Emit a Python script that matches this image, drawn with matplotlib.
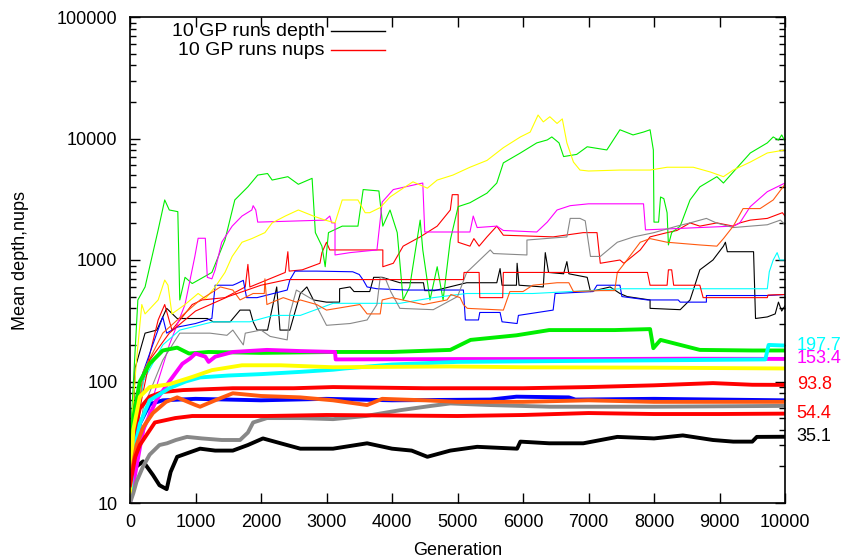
import matplotlib
matplotlib.use("Agg")
import matplotlib.pyplot as plt
from matplotlib.lines import Line2D
import numpy as np

plt.rcParams['font.family'] = ['Liberation Sans', 'DejaVu Sans']

# colours of the ten runs (gnuplot style)
run_colors = ['#000000', '#ff0000', '#00ee00', '#0000ff', '#ff00ff',
              '#00ffff', '#ffff00', '#888888', '#ff5a10', '#ff0000']

# --- depth (thick) series: (generation, mean depth) ---
black_depth = [(0,15),(100,20),(200,22),(350,17),(450,14),(560,13),(620,18),(720,24),(1070,28),
               (1300,27),(1570,27),(1800,30),(2030,34),(2300,31),(2600,28),(3100,28),(3620,31),
               (4000,28),(4300,27),(4540,24),(4890,27),(5300,29),(5910,28),(5960,32),(6400,31),
               (6920,31),(7440,35),(8000,34),(8440,36),(8900,33),(9210,32),(9500,32),(9570,35),(10000,35.1)]
red_depth = [(0,15),(50,35),(150,60),(300,75),(500,82),(810,85),(1570,88),(2500,88),(3100,90),
             (4500,88),(6000,88),(7000,90),(8000,93),(8900,97),(9500,94),(10000,93.8)]
green_depth = [(0,20),(50,50),(150,100),(300,140),(500,180),(720,190),(900,170),(1200,175),(2000,172),
               (3130,175),(4000,175),(4890,182),(5200,220),(5900,240),(6400,265),(7400,265),(7940,270),
               (7990,188),(8100,220),(8700,182),(9500,180),(10000,180)]
blue_depth = [(0,12),(50,25),(150,45),(300,65),(500,70),(1000,72),(2000,70),(3000,72),(4000,70),
              (5500,71),(5900,75),(6700,74),(6800,71),(8000,72),(10000,70)]
magenta_depth = [(0,10),(100,20),(200,40),(400,70),(600,100),(800,140),(920,155),(1000,170),(1150,160),
                 (1200,145),(1300,160),(1570,175),(2090,182),(2600,178),(3130,175),(3140,152),(5000,153),
                 (7000,153),(8500,154),(10000,153.4)]
cyan_depth = [(0,10),(50,25),(150,45),(300,70),(600,88),(850,100),(1070,108),(1500,112),(2000,115),
              (2600,120),(3100,125),(3280,128),(4000,138),(5000,145),(7000,148),(8500,150),(9700,152),
              (9750,200),(10000,197.7)]
yellow_depth = [(0,12),(50,40),(150,75),(300,90),(600,95),(950,109),(1250,124),(1710,136),(2300,136),
                (3100,131),(4890,133),(6000,131),(8000,130),(10000,128)]
gray_depth = [(0,10),(50,12),(100,15),(200,20),(300,25),(450,30),(565,31),(700,33),(870,35),(1100,34),
              (1400,33),(1680,33),(1800,38),(1880,46),(2090,50),(2600,50),(3100,49),(3600,52),(4120,58),
              (4600,63),(4890,66),(5500,64),(6410,62),(8000,62),(10000,63)]
orange_depth = [(0,15),(100,30),(200,42),(350,55),(550,68),(720,74),(1000,64),(1070,62),(1300,70),
                (1570,80),(2000,76),(2600,74),(3100,70),(3620,64),(3850,72),(4500,70),(5000,68),
                (6000,68),(7000,70),(8000,68),(9000,68),(10000,68)]
red2_depth = [(0,14),(80,24),(150,30),(380,46),(690,50),(950,52),(2090,52),(3000,53),(5000,52),
              (6000,53),(7000,55),(8000,54),(9000,54),(10000,54.4)]

# --- nups (thin) series: (generation, mean nups) ---
black_nups = [(0,12),(80,130),(230,250),(410,265),(560,400),(720,330),(1180,330),(1270,310),(1530,310),
              (1680,387),(1830,387),(1880,310),(1940,265),(2100,265),(2240,600),(2290,265),(2440,265),
              (2600,530),(2700,600),(2800,469),(3000,450),(3200,450),(3200,580),(3360,600),(3420,550),
              (3660,550),(3720,720),(3850,720),(4120,650),(4480,650),(4500,560),(4650,560),(5140,650),
              (5600,650),(5650,850),(5680,620),(5900,620),(5910,940),(5940,620),(6310,600),(6340,1150),
              (6390,790),(6620,770),(6670,970),(6700,770),(6980,720),(7030,550),(7330,600),(7480,530),
              (7590,500),(7940,469),(7940,400),(8400,390),(8550,469),(8600,566),(8700,830),(8900,1000),
              (9060,1300),(9090,1400),(9120,1170),(9520,1170),(9550,330),(9730,340),(9850,360),
              (9900,450),(9950,380),(10000,420)]
red_nups = [(0,15),(200,100),(430,321),(530,430),(640,265),(950,430),(1100,469),(1450,490),(1760,600),
            (1800,920),(1830,600),(2370,790),(2410,1170),(2430,810),(2630,830),(2900,940),(2930,1150),
            (3000,1400),(3050,1210),(3860,1210),(3860,880),(4020,940),(4170,1300),(4430,1550),
            (4690,1900),(4890,2580),(4920,3450),(5010,3450),(5010,1400),(5190,1300),(5250,1500),
            (5330,1300),(5450,1550),(5600,1900),(5700,1600),(6460,1550),(6920,1680),(7130,1680),
            (7180,940),(7480,1000),(7540,940),(7790,1210),(7940,1550),(8200,1680),(8350,1750),
            (8550,2020),(8700,1900),(8960,2020),(9210,1900),(9310,2020),(9470,2130),(9730,2200),
            (9960,2450),(10000,2300)]
green_nups = [(0,30),(120,469),(230,600),(430,1770),(530,3120),(600,2580),(730,2500),(760,469),(840,720),
              (950,640),(1250,790),(1450,1460),(1600,3120),(1800,4000),(1950,5000),(2100,5150),(2170,4550),
              (2410,4850),(2570,4200),(2780,4700),(2830,1680),(2930,1300),(2980,880),(3030,1680),
              (3240,1900),(3480,1900),(3560,3800),(3800,3700),(3860,1900),(3970,2580),(4080,1680),
              (4170,469),(4270,600),(4430,2130),(4470,1210),(4580,469),(4690,880),(4780,469),(4890,1460),
              (5010,2750),(5190,2960),(5450,3550),(5600,4300),(5700,6300),(5960,7600),(6210,9200),
              (6370,9730),(6440,10300),(6550,9200),(6620,7100),(6820,7400),(6980,8550),(7280,8050),
              (7480,11800),(7680,10700),(7840,11300),(7940,11800),(7990,8050),(8000,2050),(8070,2050),
              (8100,3300),(8150,3200),(8200,2450),(8220,1330),(8270,1680),(8400,1900),(8550,3120),
              (8700,4000),(8960,4850),(9060,4300),(9210,5300),(9470,7600),(9730,9200),(9820,10300),
              (9900,9700),(9950,10700),(10000,9500)]
blue_nups = [(0,10),(150,100),(410,250),(500,340),(560,250),(720,280),(1000,300),(1250,330),(1300,620),
             (1570,620),(1630,640),(1730,680),(1780,490),(1940,490),(2190,530),(2400,566),(2440,684),
             (2520,810),(2850,810),(3400,800),(3500,760),(3560,684),(3620,600),(3770,580),(4230,566),
             (5090,566),(5120,321),(5320,321),(5340,370),(5650,370),(5680,310),(5910,300),(5930,350),
             (6460,387),(6490,530),(7070,550),(7130,620),(7480,620),(7510,500),(7900,469),(8370,469),
             (8400,450),(8800,450),(8800,510),(9730,510),(10000,520)]
magenta_nups = [(0,12),(300,60),(600,200),(840,430),(990,1070),(1040,1510),(1150,1510),(1180,720),
                (1250,700),(1300,830),(1400,1400),(1560,1900),(1710,2300),(1860,2580),(1880,2800),
                (1920,2580),(1950,2050),(2600,2100),(2980,2130),(3050,2300),(3080,2020),(3130,2020),
                (3130,1100),(3360,1150),(3770,1210),(3850,3000),(4020,3800),(4380,4200),(4470,4300),
                (4500,1700),(5190,1700),(5240,2300),(5300,1850),(5600,1900),(5700,1750),(6210,1700),
                (6370,2050),(6520,2580),(6720,2800),(7000,2900),(7840,2900),(7870,1770),(8700,1850),
                (9210,1900),(9310,2020),(9470,2750),(9730,3650),(10000,4300)]
cyan_nups = [(0,10),(200,100),(500,200),(760,265),(1270,310),(1830,310),(2190,350),(2600,350),
             (3100,440),(3500,440),(4120,440),(4630,490),(5140,530),(6150,530),(7180,566),(7480,580),
             (9730,580),(9760,800),(9820,1000),(9880,1150),(9920,1000),(10000,1000)]
yellow_nups = [(0,30),(100,150),(180,430),(230,360),(430,469),(530,684),(580,620),(640,360),(840,430),
               (1040,530),(1150,480),(1300,600),(1450,790),(1560,1070),(1710,1400),(1860,1500),(2060,1680),
               (2170,2020),(2370,2300),(2570,2580),(2800,2300),(2980,2130),(3130,2020),(3240,3120),
               (3480,3120),(3590,2450),(3660,2450),(3820,2700),(3970,3300),(4170,3900),(4320,4400),
               (4540,3900),(4690,4550),(4930,5000),(5190,5800),(5450,6600),(5700,8400),(5960,10300),
               (6110,11300),(6230,15600),(6310,13700),(6410,15100),(6520,13300),(6600,14500),(6670,9200),
               (6770,6400),(6870,5500),(7000,5400),(7480,5500),(7940,5500),(8200,5800),(8600,5800),
               (8860,5300),(9060,4850),(9210,5500),(9470,6400),(9730,7600),(10000,8050)]
gray_nups = [(0,10),(200,60),(500,150),(760,250),(1220,250),(1480,240),(1570,265),(1730,200),(1760,250),
             (2000,265),(2140,235),(2400,220),(2440,360),(2540,566),(2800,469),(3000,290),(3360,300),
             (3620,321),(3770,430),(3820,720),(3900,700),(3980,550),(4120,400),(4630,390),(5000,500),
             (5140,790),(5500,1210),(5550,1130),(6060,1100),(6060,1460),(6670,1550),(6720,2200),
             (6870,2200),(6950,2100),(7030,1070),(7180,1070),(7440,1400),(7690,1550),(8000,1680),
             (8350,1900),(8550,2020),(8800,2200),(8950,2020),(9210,1850),(9730,1950),(9930,2130),(10000,1950)]
orange_nups = [(0,15),(200,120),(500,250),(800,350),(1070,469),(1380,600),(1570,566),(1680,469),
               (1880,530),(2050,530),(2060,700),(2090,430),(2340,490),(2540,450),(2600,469),(2850,430),
               (3000,387),(3510,430),(3620,360),(3820,360),(3850,469),(4000,490),(4480,430),(4840,469),
               (4900,520),(5040,490),(5090,430),(5150,400),(5700,387),(5800,550),(6000,550),(6150,620),
               (6520,650),(6700,650),(6770,550),(7180,560),(7400,560),(7440,790),(7550,940),(7790,1400),
               (7940,1500),(8200,1400),(8700,1330),(8960,1300),(9060,1500),(9210,1900),(9360,2650),
               (9620,2650),(9820,3120),(10000,4200)]
red2_nups = [(0,10),(150,60),(300,150),(600,250),(1000,380),(1500,500),(2000,620),(2400,690),
             (5090,690),(5100,790),(5330,790),(5340,490),(5690,490),(5700,790),(7900,790),(7940,620),
             (8200,620),(8220,830),(8270,830),(8300,620),(8700,620),(8750,490),(9730,490),(9740,515),
             (10000,520)]

depth_runs = [black_depth, red_depth, green_depth, blue_depth, magenta_depth,
              cyan_depth, yellow_depth, gray_depth, orange_depth, red2_depth]
nups_runs = [black_nups, red_nups, green_nups, blue_nups, magenta_nups,
             cyan_nups, yellow_nups, gray_nups, orange_nups, red2_nups]

# final values written at the right edge
end_values = [197.7, 153.4, 93.8, 54.4, 35.1]
end_colors = ['#00ffff', '#ff00ff', '#ff0000', '#ff0000', '#000000']

fig = plt.figure(figsize=(8.44, 5.59), dpi=100)
ax = fig.add_axes([130/844, 1-503/559, 655/844, 486/559])

for run, c in zip(nups_runs, run_colors):
    g, v = np.array(run).T
    ax.plot(g, v, color=c, lw=0.8)
for run, c in zip(depth_runs, run_colors):
    g, v = np.array(run).T
    ax.plot(g, v, color=c, lw=2.8)

for val, c in zip(end_values, end_colors):
    ax.text(10180, val, f"{val}", color=c, fontsize=13, va='center', ha='left', clip_on=False)

ax.set_yscale('log')
ax.set_xlim(0, 10000)
ax.set_ylim(10, 100000)
ax.set_xticks(range(0, 10001, 1000))
ax.set_yticks([10, 100, 1000, 10000, 100000])
ax.set_yticklabels(['10', '100', '1000', '10000', '100000'])
ax.tick_params(which='both', direction='in', top=True, right=True, labelsize=13, width=1)
ax.tick_params(which='major', length=7)
ax.tick_params(axis='y', which='major', pad=9)
ax.tick_params(axis='x', which='major', pad=8)
ax.tick_params(which='minor', length=4)
for s in ax.spines.values():
    s.set_linewidth(1.2)

ax.set_xlabel('Generation', fontsize=13, labelpad=8)
ax.set_ylabel('Mean depth,nups', fontsize=13, labelpad=20)

# gnuplot style key: text, then line sample
ax.text(0.297, 0.971, '10 GP runs depth', transform=ax.transAxes, ha='right', va='center', fontsize=14)
ax.text(0.297, 0.932, '10 GP runs nups', transform=ax.transAxes, ha='right', va='center', fontsize=14)
ax.add_line(Line2D([0.307, 0.389], [0.971, 0.971], transform=ax.transAxes, color='black', lw=1))
ax.add_line(Line2D([0.307, 0.389], [0.932, 0.932], transform=ax.transAxes, color='red', lw=1))

fig.savefig('out.png', dpi=100)
